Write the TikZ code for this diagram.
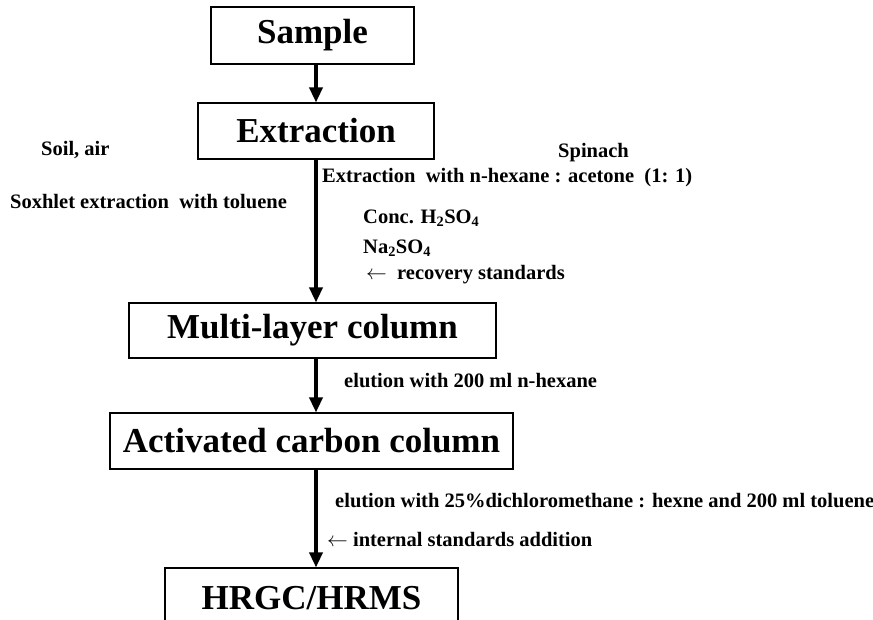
\documentclass[tikz,border=0pt]{standalone}
\usepackage{fontspec}
\setmainfont{LiberationSerif}[Extension=.ttf, UprightFont=*-Regular, BoldFont=*-Bold, ItalicFont=*-Italic, BoldItalicFont=*-BoldItalic]
\usetikzlibrary{arrows.meta}
\tikzset{
  boxnode/.style={draw=black, line width=1.1pt, inner sep=0pt, font=\fontsize{35}{40}\selectfont\bfseries},
  lbl/.style={inner sep=0pt, anchor=west, font=\fontsize{20.5}{24}\selectfont\bfseries},
  arr/.style={line width=3.4pt, -{Triangle[length=15pt,width=13pt]}}
}
\begin{document}
\begin{tikzpicture}[x=1pt,y=-1pt]
\useasboundingbox (0,0) rectangle (873,620);
\clip (0,0) rectangle (873,620);
\fill[white] (0,0) rectangle (873,620);
% boxes
\node[boxnode, minimum width=203pt, minimum height=57pt] (sample) at (312.5,35.5) {Sample};
\node[boxnode, minimum width=236pt, minimum height=56pt] (extraction) at (316,131) {Extraction};
\node[boxnode, minimum width=367pt, minimum height=55pt] (multi) at (312.5,330.5) {Multi-layer column};
\node[boxnode, minimum width=403pt, minimum height=56pt] (carbon) at (311.5,441) {Activated carbon column};
\node[boxnode, minimum width=293pt, minimum height=60pt] (hrgc) at (311.5,598) {HRGC/HRMS};
% arrow axis
\coordinate (ax) at (316,0);
\draw[arr] (sample.south -| ax) -- (extraction.north -| ax);
\draw[arr] (extraction.south -| ax) -- (multi.north -| ax);
\draw[arr] (multi.south -| ax) -- (carbon.north -| ax);
\draw[arr] (carbon.south -| ax) -- (hrgc.north -| ax);
% labels
\node[lbl] (soil) at (41,150) {Soil, air};
\node[lbl] (spinach) at (558,153) {Spinach};
\node[lbl] (exhex) at (322,178) {Extraction\ \ with n-hexane : acetone\ \ (1: 1)};
\node[lbl] (soxhlet) at (10,202) {Soxhlet extraction\ \ with toluene};
\node[lbl] (conc) at (363,218) {Conc. H\textsubscript{2}SO\textsubscript{4}};
\node[lbl] (na) at (363,248) {Na\textsubscript{2}SO\textsubscript{4}};
\node[lbl] (recovery) at (366,275) {$\leftarrow$\ \ recovery standards};
\node[lbl] (elution1) at (344,381) {elution with 200 ml n-hexane};
\node[lbl] (elution2) at (335,501) {elution with 25\%dichloromethane : hexne and 200 ml toluene};
\node[lbl] (internal) at (327,539) {$\leftarrow$ internal standards addition};
\end{tikzpicture}
\end{document}
